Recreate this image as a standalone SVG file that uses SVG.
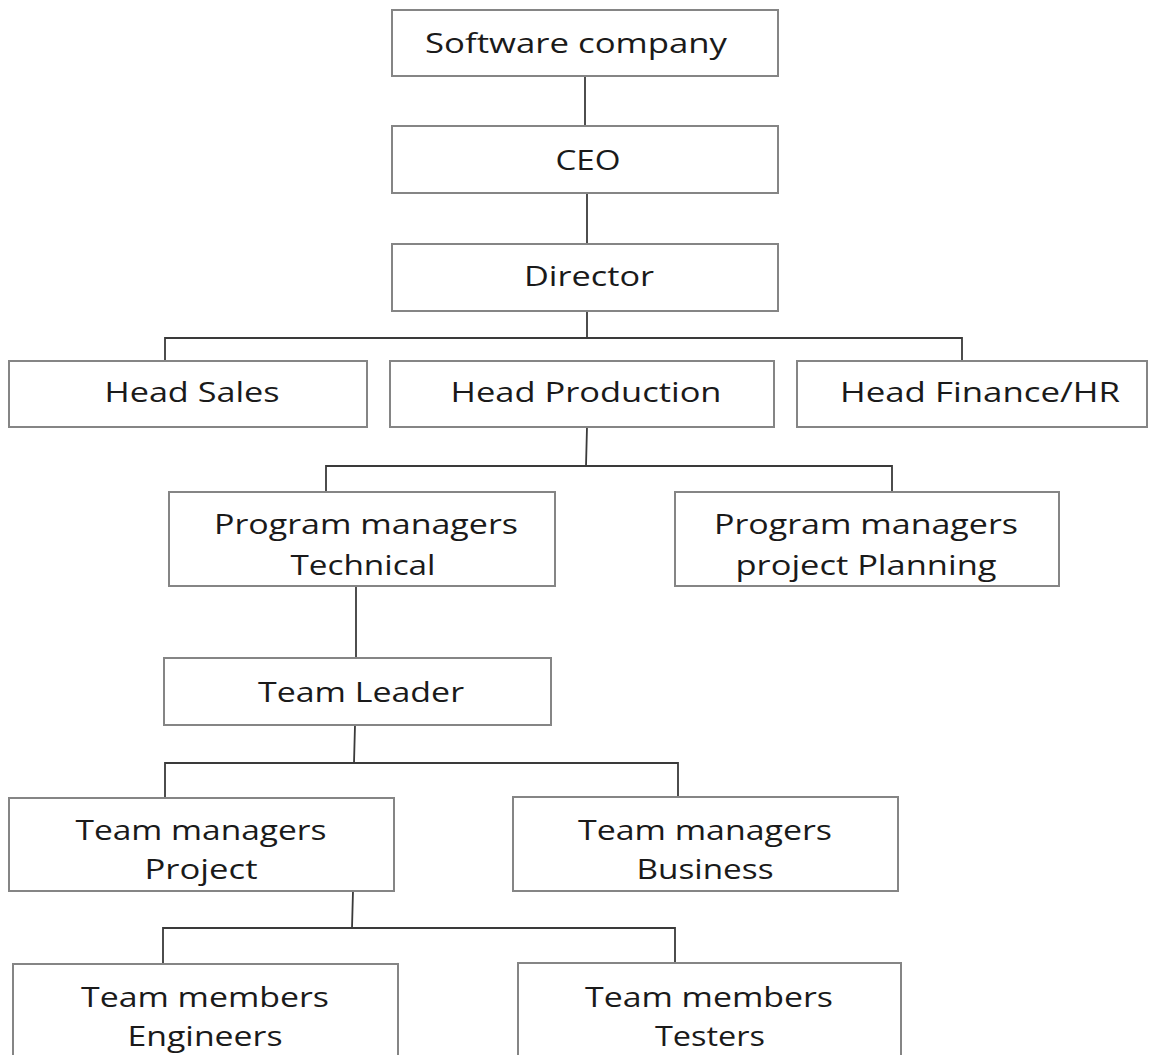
<svg xmlns="http://www.w3.org/2000/svg" width="1149" height="1055" viewBox="0 0 1149 1055">
<style>
.box{fill:#ffffff;stroke:#858585;stroke-width:2}
.ln{fill:none;stroke:#3a3a3a;stroke-width:1.8}
text{font-family:"Open Sans","Liberation Sans",sans-serif;font-size:28px;fill:#1a1a1a;text-anchor:middle}
</style>
<rect width="1149" height="1055" fill="#ffffff"/>
<g id="connectors">
<path class="ln" d="M585 76V126"/>
<path class="ln" d="M587 193V244"/>
<path class="ln" d="M587 311V338M165 361V338H962V361"/>
<path class="ln" d="M587 427L586 466M326 492V466H892V492"/>
<path class="ln" d="M356 586V658"/>
<path class="ln" d="M355 725L354 763M165 798V763H678V798"/>
<path class="ln" d="M353 891L352 928M163 964V928H675V964"/>
</g>
<g id="n-software"><rect class="box" x="392" y="10" width="386" height="66"/><text x="576" y="53" textLength="302" lengthAdjust="spacingAndGlyphs">Software company</text></g>
<g id="n-ceo"><rect class="box" x="392" y="126" width="386" height="67"/><text x="588" y="170" textLength="65" lengthAdjust="spacingAndGlyphs">CEO</text></g>
<g id="n-director"><rect class="box" x="392" y="244" width="386" height="67"/><text x="589" y="286" textLength="130" lengthAdjust="spacingAndGlyphs">Director</text></g>
<g id="n-sales"><rect class="box" x="9" y="361" width="358" height="66"/><text x="192" y="402" textLength="175" lengthAdjust="spacingAndGlyphs">Head Sales</text></g>
<g id="n-production"><rect class="box" x="390" y="361" width="384" height="66"/><text x="586" y="402" textLength="271" lengthAdjust="spacingAndGlyphs">Head Production</text></g>
<g id="n-finance"><rect class="box" x="797" y="361" width="350" height="66"/><text x="980" y="402" textLength="280" lengthAdjust="spacingAndGlyphs">Head Finance/HR</text></g>
<g id="n-pm-tech"><rect class="box" x="169" y="492" width="386" height="94"/><text x="366" y="534" textLength="304" lengthAdjust="spacingAndGlyphs">Program managers</text><text x="363" y="575" textLength="145" lengthAdjust="spacingAndGlyphs">Technical</text></g>
<g id="n-pm-plan"><rect class="box" x="675" y="492" width="384" height="94"/><text x="866" y="534" textLength="304" lengthAdjust="spacingAndGlyphs">Program managers</text><text x="866" y="575" textLength="261" lengthAdjust="spacingAndGlyphs">project Planning</text></g>
<g id="n-teamleader"><rect class="box" x="164" y="658" width="387" height="67"/><text x="361" y="702" textLength="206" lengthAdjust="spacingAndGlyphs">Team Leader</text></g>
<g id="n-tm-project"><rect class="box" x="9" y="798" width="385" height="93"/><text x="201" y="840" textLength="251" lengthAdjust="spacingAndGlyphs">Team managers</text><text x="201" y="879" textLength="113" lengthAdjust="spacingAndGlyphs">Project</text></g>
<g id="n-tm-business"><rect class="box" x="513" y="797" width="385" height="94"/><text x="705" y="840" textLength="254" lengthAdjust="spacingAndGlyphs">Team managers</text><text x="705" y="879" textLength="137" lengthAdjust="spacingAndGlyphs">Business</text></g>
<g id="n-engineers"><rect class="box" x="13" y="964" width="385" height="100"/><text x="205" y="1007" textLength="248" lengthAdjust="spacingAndGlyphs">Team members</text><text x="205" y="1046" textLength="155" lengthAdjust="spacingAndGlyphs">Engineers</text></g>
<g id="n-testers"><rect class="box" x="518" y="963" width="383" height="100"/><text x="709" y="1007" textLength="248" lengthAdjust="spacingAndGlyphs">Team members</text><text x="710" y="1046" textLength="110" lengthAdjust="spacingAndGlyphs">Testers</text></g>
</svg>
